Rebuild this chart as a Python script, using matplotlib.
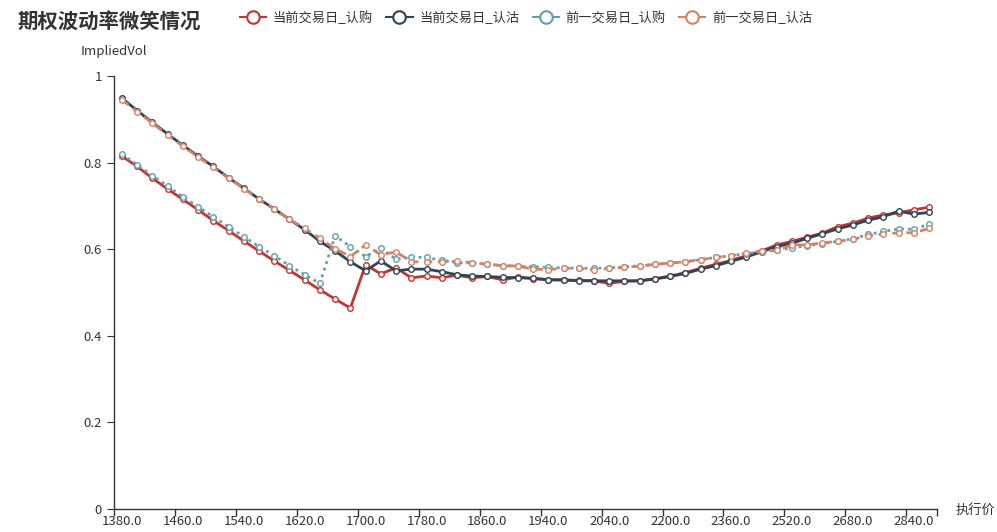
import numpy as np
import matplotlib
matplotlib.use("Agg")
import matplotlib.pyplot as plt
from matplotlib.lines import Line2D

plt.rcParams['font.family'] = ['Noto Sans CJK SC', 'DejaVu Sans']

# strikes (category axis)
strikes = [1380 + 20 * i for i in range(32)] + [2040 + 40 * i for i in range(22)]

cur_call = [0.815, 0.791, 0.764, 0.739, 0.715, 0.691, 0.666, 0.643, 0.619, 0.596,
            0.573, 0.551, 0.529, 0.506, 0.485, 0.464, 0.564, 0.543, 0.557, 0.534,
            0.538, 0.534, 0.540, 0.534, 0.537, 0.529, 0.536, 0.532, 0.530, 0.529,
            0.528, 0.527, 0.521, 0.526, 0.527, 0.532, 0.538, 0.546, 0.556, 0.565,
            0.574, 0.585, 0.596, 0.610, 0.618, 0.628, 0.637, 0.652, 0.660, 0.672,
            0.679, 0.684, 0.691, 0.697]
cur_put = [0.949, 0.920, 0.893, 0.866, 0.840, 0.815, 0.791, 0.765, 0.741, 0.716,
           0.693, 0.669, 0.645, 0.618, 0.596, 0.571, 0.550, 0.573, 0.550, 0.554,
           0.554, 0.548, 0.541, 0.538, 0.537, 0.535, 0.534, 0.533, 0.529, 0.529,
           0.527, 0.527, 0.527, 0.527, 0.527, 0.531, 0.537, 0.544, 0.554, 0.562,
           0.572, 0.582, 0.594, 0.606, 0.614, 0.625, 0.636, 0.647, 0.656, 0.667,
           0.675, 0.688, 0.681, 0.685]
prev_call = [0.819, 0.795, 0.770, 0.746, 0.721, 0.698, 0.675, 0.652, 0.629, 0.606,
             0.585, 0.562, 0.541, 0.521, 0.631, 0.606, 0.583, 0.602, 0.577, 0.581,
             0.581, 0.574, 0.569, 0.568, 0.566, 0.562, 0.561, 0.559, 0.558, 0.557,
             0.556, 0.556, 0.557, 0.559, 0.562, 0.565, 0.568, 0.571, 0.576, 0.581,
             0.585, 0.590, 0.594, 0.598, 0.603, 0.608, 0.613, 0.618, 0.624, 0.634,
             0.641, 0.647, 0.646, 0.658]
prev_put = [0.945, 0.918, 0.891, 0.864, 0.838, 0.813, 0.789, 0.764, 0.740, 0.716,
            0.692, 0.669, 0.648, 0.625, 0.601, 0.583, 0.610, 0.587, 0.594, 0.571,
            0.571, 0.571, 0.572, 0.569, 0.565, 0.562, 0.561, 0.554, 0.553, 0.556,
            0.556, 0.552, 0.556, 0.558, 0.561, 0.565, 0.568, 0.571, 0.576, 0.581,
            0.585, 0.591, 0.596, 0.597, 0.610, 0.610, 0.615, 0.618, 0.623, 0.631,
            0.635, 0.638, 0.638, 0.648]

names = ['当前交易日_认购', '当前交易日_认沽', '前一交易日_认购', '前一交易日_认沽']
colors = ['#c23531', '#2f4554', '#61a0a8', '#d48265']
styles = ['-', '-', (0, (1, 1.5)), (0, (3, 2))]

W, H = 997, 532
fig = plt.figure(figsize=(W / 100, H / 100), dpi=100)
ax = fig.add_axes([114.3 / W, 23 / H, (936.7 - 114.3) / W, (509 - 76) / H])

x = np.arange(len(strikes))
series = [cur_call, cur_put, prev_call, prev_put]
for vals, c, ls in zip(series, colors, styles):
    ax.plot(x, vals, color=c, linestyle=ls, linewidth=2, marker='o', markersize=4,
            markerfacecolor='white', markeredgecolor=c, markeredgewidth=1)

ax.set_xlim(-0.5, len(strikes) - 0.5)
ax.set_ylim(0, 1)

bounds = list(np.arange(-0.5, len(strikes) - 1, 4)) + [len(strikes) - 0.5]
ax.set_xticks(bounds)
ax.set_xticklabels([])
lab_idx = list(range(0, len(strikes), 4))
ax.set_xticks(lab_idx, minor=True)
ax.set_xticklabels(['%.1f' % strikes[i] for i in lab_idx], minor=True)
ax.tick_params(axis='x', which='minor', length=0, pad=4, labelsize=9.5, labelcolor='#333333')
ax.tick_params(axis='x', which='major', length=5, color='#333333', width=1)

ax.set_yticks([0, 0.2, 0.4, 0.6, 0.8, 1.0])
ax.set_yticklabels(['0', '0.2', '0.4', '0.6', '0.8', '1'])
ax.tick_params(axis='y', length=5, color='#333333', labelsize=9.5, labelcolor='#333333', pad=4)

for s in ['top', 'right']:
    ax.spines[s].set_visible(False)
for s in ['left', 'bottom']:
    ax.spines[s].set_color('#333333')
    ax.spines[s].set_linewidth(1)

fig.text(18 / W, 1 - 22 / H, '期权波动率微笑情况', fontsize=14.7, fontweight='bold',
         color='#333333', va='center', ha='left')
fig.text(114 / W, 1 - 52 / H, 'ImpliedVol', fontsize=9.5, color='#333333', ha='center', va='center')
fig.text(975 / W, 1 - 510 / H, '执行价', fontsize=9.5, color='#333333', ha='center', va='center')

handles = [Line2D([0], [0], color=c, linewidth=1.5, marker='o', markersize=9,
                  markerfacecolor='white', markeredgecolor=c, markeredgewidth=1.5)
           for c in colors]
fig.legend(handles, names, loc='center', bbox_to_anchor=(526 / W, 1 - 18 / H), ncol=4,
           frameon=False, fontsize=9.5, handlelength=2.0, handletextpad=0.5,
           columnspacing=1.0, labelcolor='#333333')

fig.savefig('out.png', dpi=100)
